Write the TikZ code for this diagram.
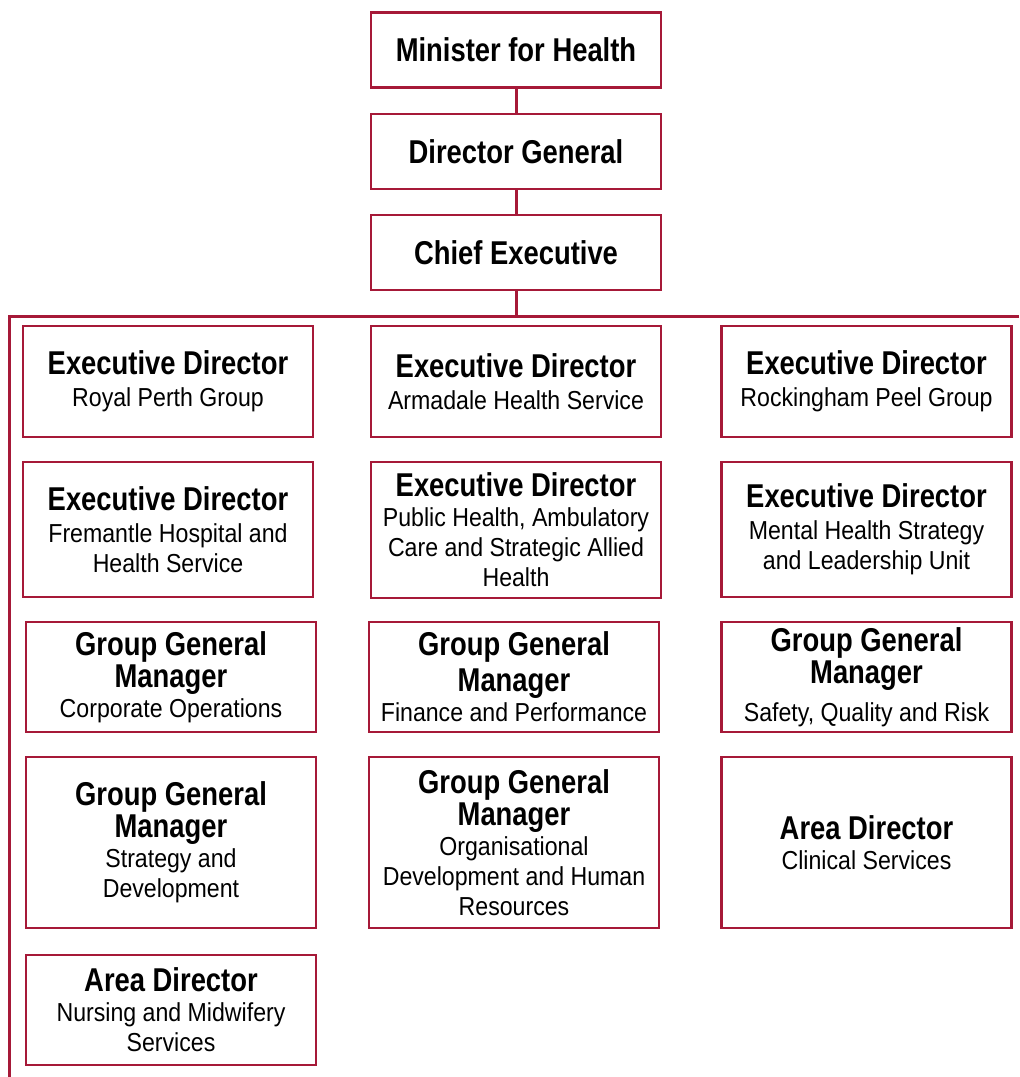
\documentclass[tikz,border=0pt]{standalone}
\usepackage{fontspec}
\setmainfont{Liberation Sans}
\newfontfamily\headfont{Liberation Sans}[FakeStretch=0.83]
\newfontfamily\bodyfont{Liberation Sans}[FakeStretch=0.89]
\usetikzlibrary{calc}
\definecolor{crimson}{RGB}{166,25,56}
\newcommand{\boxtitle}[1]{{\headfont\bfseries\fontsize{16.5}{18}\selectfont #1}}
\tikzset{
    orgbox/.style={draw=crimson,line width=1.4pt,fill=white,align=center,
        inner sep=0pt,minimum width=145pt,
        font=\bodyfont\fontsize{13}{15}\selectfont},
    topbox/.style={orgbox,minimum height=37.5pt},
    link/.style={draw=crimson,line width=1.5pt}
}

\begin{document}
\begin{tikzpicture}[x=0.5pt,y=-0.5pt]
    \useasboundingbox (0,0) rectangle (1019,1077);
    % Top of the chain
    \node[topbox] (minister) at (516,50) {\boxtitle{Minister for Health}};
    \node[topbox] (dirgen) at (516,151.5) {\boxtitle{Director General}};
    \node[topbox] (chiefexec) at (516,252.5) {\boxtitle{Chief Executive}};
    \draw[link] (minister) -- (dirgen);
    \draw[link] (dirgen) -- (chiefexec);
    % Bus line
    \coordinate (busL) at (9,316);
    \coordinate (busR) at (1019,316);
    \coordinate (busEnd) at (9,1077);
    \draw[link] (chiefexec.south) -- (chiefexec.south |- busL);
    \draw[link] (busR) -- (busL) -- (busEnd);
    % First column
    \node[orgbox,minimum height=55.5pt] (royalperth) at (168,381.5)
        {\boxtitle{Executive Director}\\[1pt]Royal Perth Group};
    \node[orgbox,minimum height=67.5pt] (fremantle) at (168,529.5)
        {\boxtitle{Executive Director}\\[1pt]Fremantle Hospital and\\Health Service};
    \node[orgbox,minimum height=55pt] (corpops) at (171,677)
        {\boxtitle{Group General}\\[1pt]\boxtitle{Manager}\\Corporate Operations};
    \node[orgbox,minimum height=85.5pt] (strategy) at (171,842.5)
        {\boxtitle{Group General}\\[1pt]\boxtitle{Manager}\\Strategy and\\Development};
    \node[orgbox,minimum height=55pt] (nursing) at (171,1010)
        {\boxtitle{Area Director}\\Nursing and Midwifery\\Services};
    % Second column
    \node[orgbox,minimum height=55.5pt] (armadale) at (516,381.5)
        {\boxtitle{Executive Director}\\[1pt]Armadale Health Service};
    \node[orgbox,minimum height=68pt] (pubhealth) at (516,530)
        {\boxtitle{Executive Director}\\Public Health, Ambulatory\\Care and Strategic Allied\\Health};
    \node[orgbox,minimum height=55pt] (finance) at (514,677)
        {\boxtitle{Group General}\\[3pt]\boxtitle{Manager}\\Finance and Performance};
    \node[orgbox,minimum height=85.5pt] (orgdev) at (514,842.5)
        {\boxtitle{Group General}\\[1pt]\boxtitle{Manager}\\Organisational\\Development and Human\\Resources};
    % Third column
    \node[orgbox,minimum height=55.5pt] (rockingham) at (866.5,381.5)
        {\boxtitle{Executive Director}\\[1pt]Rockingham Peel Group};
    \node[orgbox,minimum height=67.5pt] (mentalhealth) at (866.5,529.5)
        {\boxtitle{Executive Director}\\[1pt]Mental Health Strategy\\and Leadership Unit};
    \node[orgbox,minimum height=55pt] (safety) at (866.5,677)
        {\boxtitle{Group General}\\[1pt]\boxtitle{Manager}\\[4pt]Safety, Quality and Risk};
    \node[orgbox,minimum height=85.5pt] (clinical) at (866.5,842.5)
        {\boxtitle{Area Director}\\Clinical Services};
\end{tikzpicture}
\end{document}
